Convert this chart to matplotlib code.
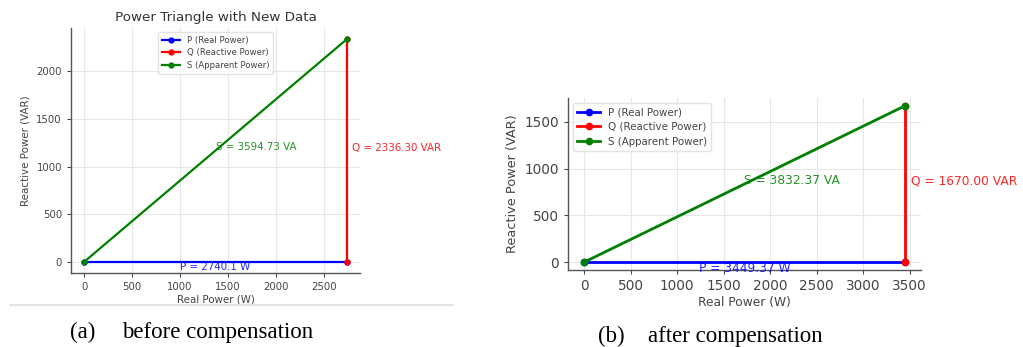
import matplotlib
matplotlib.use("Agg")
import matplotlib.pyplot as plt
from matplotlib.lines import Line2D

# ---- data ----
P_before = 2740.1
Q_before = 2336.30
S_before = 3594.73
P_after = 3449.37
Q_after = 1670.00
S_after = 3832.37

labels = ["P (Real Power)", "Q (Reactive Power)", "S (Apparent Power)"]
caption_tags = ["(a)", "(b)"]
caption_texts = ["before compensation", "after compensation"]

W, H = 1023, 347
fig = plt.figure(figsize=(W / 100, H / 100), dpi=100)
fig.patch.set_facecolor("white")

tick_col = "#444444"
spine_col = "#555555"


def power_axes(rect, P, Q, S, sizes, lw, ms, title=None, legend_loc="upper center", p_label=None):
    ax = fig.add_axes(rect)
    ax.plot([0, P], [0, 0], color="blue", marker="o", lw=lw, ms=ms, label=labels[0])
    ax.plot([P, P], [0, Q], color="red", marker="o", lw=lw, ms=ms, label=labels[1])
    ax.plot([0, P], [0, Q], color="green", marker="o", lw=lw, ms=ms, label=labels[2])
    ax.text(P / 2, Q / 2, f"S = {S:.2f} VA", color="green", fontsize=sizes["ann"], ha="left", va="baseline", alpha=0.85)
    ax.text(P * 1.02, Q / 2, f"Q = {Q:.2f} VAR", color="red", fontsize=sizes["ann"], ha="left", va="baseline", alpha=0.85)
    ax.text(P / 2, 0, p_label if p_label else f"P = {P:.2f} W", color="blue", fontsize=sizes["ann"],
            ha="center", va="top", alpha=0.85)
    ax.grid(True, color="#e6e6e6", lw=0.8)
    ax.set_axisbelow(True)
    for s in ["top", "right"]:
        ax.spines[s].set_visible(False)
    for s in ["left", "bottom"]:
        ax.spines[s].set_color(spine_col)
        ax.spines[s].set_linewidth(1.0)
    ax.tick_params(colors=tick_col, labelsize=sizes["tick"], length=3, width=0.8)
    ax.set_xlabel("Real Power (W)", fontsize=sizes["xlabel"], color=tick_col, labelpad=2)
    ax.set_ylabel("Reactive Power (VAR)", fontsize=sizes["ylabel"], color=tick_col, labelpad=4)
    if title:
        ax.set_title(title, fontsize=sizes["title"], color="#333333", pad=5)
    leg = ax.legend(loc=legend_loc, fontsize=sizes["legend"], frameon=True, handlelength=2.2,
                    borderpad=0.4, labelspacing=0.45)
    leg.get_frame().set_edgecolor("#dddddd")
    for t in leg.get_texts():
        t.set_color(tick_col)
    return ax


left_sizes = dict(ann=7.4, tick=7.3, xlabel=7.4, ylabel=7.4, title=9.7, legend=6.1)
right_sizes = dict(ann=8.8, tick=9.8, xlabel=8.8, ylabel=9.3, legend=7.4)

ax1 = power_axes([71 / W, (H - 273) / H, 289 / W, 245 / H], P_before, Q_before, S_before,
                 left_sizes, lw=1.6, ms=3.5, title="Power Triangle with New Data",
                 legend_loc="upper center", p_label=f"P = {P_before:.1f} W")
ax2 = power_axes([568 / W, (H - 270) / H, 353 / W, 172 / H], P_after, Q_after, S_after,
                 right_sizes, lw=2.0, ms=4.5, legend_loc="upper left")

# light border line of the left screenshot
fig.add_artist(Line2D([10 / W, 453 / W], [1 - 305 / H, 1 - 305 / H], color="#e4e4e4", lw=1.5))

# captions
cap_font = dict(fontsize=16.5, family="Liberation Serif", ha="left", va="baseline")
fig.text(70 / W, 1 - 338 / H, caption_tags[0], **cap_font)
fig.text(122 / W, 1 - 338 / H, caption_texts[0], **cap_font)
fig.text(598 / W, 1 - 342 / H, caption_tags[1], **cap_font)
fig.text(648 / W, 1 - 342 / H, caption_texts[1], **cap_font)

fig.savefig("out.png", dpi=100)
